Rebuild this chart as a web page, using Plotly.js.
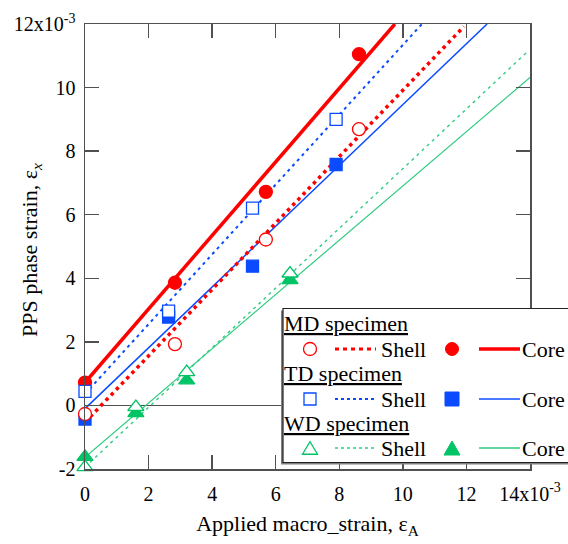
<!DOCTYPE html>
<html><head><meta charset="utf-8">
<script src="https://cdn.plot.ly/plotly-3.0.1.min.js"></script>
<style>html,body{margin:0;padding:0;background:#fff}</style>
</head><body><div id="chart" style="width:568px;height:544px"></div>
<script>
// ---- data (strain values in units of 10^-3) ----
const mdShellX = [0, 2.83, 5.69, 8.62];
const mdShellY = [-0.27, 1.93, 5.22, 8.69];
const mdCoreX  = [0, 2.83, 5.69, 8.62];
const mdCoreY  = [0.72, 3.86, 6.72, 11.05];
const tdShellX = [0, 2.63, 5.27, 7.90];
const tdShellY = [0.44, 2.97, 6.21, 9.00];
const tdCoreX  = [0, 2.63, 5.27, 7.90];
const tdCoreY  = [-0.43, 2.78, 4.38, 7.58];
const wdShellX = [0, 1.60, 3.20, 6.45];
const wdShellY = [-1.94, -0.05, 1.05, 4.15];
const wdCoreX  = [0, 1.60, 3.20, 6.45];
const wdCoreY  = [-1.62, -0.24, 0.79, 3.94];

// fitted lines: end points
const mdShellFitX = [0, 11.92], mdShellFitY = [-0.53, 11.92];
const mdCoreFitX  = [0, 9.75],  mdCoreFitY  = [0.72, 12.0];
const tdShellFitX = [0, 10.6],  tdShellFitY = [0.36, 12.0];
const tdCoreFitX  = [0, 12.65], tdCoreFitY  = [-0.10, 12.0];
const wdShellFitX = [0, 13.92], wdShellFitY = [-1.94, 11.13];
const wdCoreFitX  = [0, 14.0],  wdCoreFitY  = [-1.63, 10.32];

const xTickVals = [0, 2, 4, 6, 8, 10, 12, 14];
const xTickText = ['0', '2', '4', '6', '8', '10', '12', '14x10<sup>-3</sup>'];
const yTickVals = [-2, 0, 2, 4, 6, 8, 10, 12];
const yTickText = ['-2', '0', '2', '4', '6', '8', '10', '12x10<sup>-3</sup>'];

const legendGroups = ['MD specimen', 'TD specimen', 'WD specimen'];
const legendItems = ['Shell', 'Core'];

// ---- styling ----
const RED = '#ff0000', BLUE = '#0a4bff', GREEN = '#00c466', GREENL = '#2ecb80';
const FONT = 'Liberation Serif, Times New Roman, serif';
const AX = '#505050';
const TXT = 22;

function line(x, y, color, width, dash) {
  return {x: x, y: y, type: 'scatter', mode: 'lines', hoverinfo: 'skip',
          line: {color: color, width: width, dash: dash}, showlegend: false};
}
function pts(x, y, symbol, size, fill, lineColor) {
  return {x: x, y: y, type: 'scatter', mode: 'markers', showlegend: false, cliponaxis: false,
          marker: {symbol: symbol, size: size, color: fill, line: {color: lineColor, width: 1.3}}};
}

const traces = [
  line(wdCoreFitX, wdCoreFitY, GREENL, 1.2, 'solid'),
  line(wdShellFitX, wdShellFitY, GREENL, 1.4, '3px,4px'),
  line(tdCoreFitX, tdCoreFitY, BLUE, 1.5, 'solid'),
  line(tdShellFitX, tdShellFitY, BLUE, 2, '3px,4px'),
  line(mdShellFitX, mdShellFitY, RED, 3.5, '3.5px,4px'),
  line(mdCoreFitX, mdCoreFitY, RED, 3.5, 'solid'),
  pts(wdCoreX, wdCoreY, 'triangle-up', 14, GREEN, GREEN),
  pts(tdCoreX, tdCoreY, 'square', 12, BLUE, BLUE),
  pts(mdCoreX, mdCoreY, 'circle', 13, RED, RED),
  pts(wdShellX, wdShellY, 'triangle-up', 14, '#ffffff', GREEN),
  pts(tdShellX, tdShellY, 'square', 12, '#ffffff', BLUE),
  pts(mdShellX, mdShellY, 'circle', 13, '#ffffff', RED)
];

// ---- custom legend (pixel -> paper helpers) ----
const L = 85, T = 24, W = 445, H = 445;
const PX = p => (p - L) / W;
const PY = p => (T + H - p) / H;

const shapes = [];
const annotations = [];
shapes.push({type: 'rect', xref: 'paper', yref: 'paper', layer: 'above',
  x0: PX(281), x1: PX(580), y0: PY(310.5), y1: PY(464.5), fillcolor: '#808080', line: {width: 0}});
shapes.push({type: 'rect', xref: 'paper', yref: 'paper', layer: 'above',
  x0: PX(283), x1: PX(580), y0: PY(308.5), y1: PY(462.5), fillcolor: '#ffffff', line: {color: '#222', width: 1.2}});

const rowHead = [323, 373, 423];
const rowItem = [349, 399, 448];
const rowColor = [RED, BLUE, GREEN];
const rowLineColor = [RED, BLUE, GREENL];
const rowDash = ['4px,4px', '3px,3px', '3px,3px'];
const rowW = [3, 2, 1.5];
const rowW2 = [3.5, 1.5, 1.3];

for (let i = 0; i < 3; i++) {
  annotations.push({xref: 'paper', yref: 'paper', x: PX(282), y: PY(rowHead[i]), xanchor: 'left', yanchor: 'middle',
    showarrow: false, text: '<u>' + legendGroups[i] + '</u>', font: {family: FONT, size: TXT, color: '#000'}});
  const yc = rowItem[i];
  const c = rowColor[i];
  if (i === 0) {
    shapes.push({type: 'circle', xref: 'paper', yref: 'paper', layer: 'above',
      x0: PX(303.5), x1: PX(316.5), y0: PY(yc + 6.5), y1: PY(yc - 6.5), fillcolor: '#fff', line: {color: c, width: 1.3}});
    shapes.push({type: 'circle', xref: 'paper', yref: 'paper', layer: 'above',
      x0: PX(445.5), x1: PX(458.5), y0: PY(yc + 6.5), y1: PY(yc - 6.5), fillcolor: c, line: {color: c, width: 1}});
  } else if (i === 1) {
    shapes.push({type: 'rect', xref: 'paper', yref: 'paper', layer: 'above',
      x0: PX(304), x1: PX(316), y0: PY(yc + 6), y1: PY(yc - 6), fillcolor: '#fff', line: {color: c, width: 1.3}});
    shapes.push({type: 'rect', xref: 'paper', yref: 'paper', layer: 'above',
      x0: PX(445), x1: PX(459), y0: PY(yc + 7), y1: PY(yc - 7), fillcolor: c, line: {color: c, width: 1}});
  } else {
    const tri = (cx, w, h) => 'M' + PX(cx - w / 2) + ',' + PY(yc + h / 2) + ' L' + PX(cx + w / 2) + ',' + PY(yc + h / 2) +
      ' L' + PX(cx) + ',' + PY(yc - h / 2) + ' Z';
    shapes.push({type: 'path', xref: 'paper', yref: 'paper', layer: 'above', path: tri(310, 15, 12.5),
      fillcolor: '#fff', line: {color: c, width: 1.3}});
    shapes.push({type: 'path', xref: 'paper', yref: 'paper', layer: 'above', path: tri(452, 16, 14),
      fillcolor: c, line: {color: c, width: 1}});
  }
  shapes.push({type: 'line', xref: 'paper', yref: 'paper', layer: 'above',
    x0: PX(335), x1: PX(376), y0: PY(yc), y1: PY(yc), line: {color: rowLineColor[i], width: rowW[i], dash: rowDash[i]}});
  shapes.push({type: 'line', xref: 'paper', yref: 'paper', layer: 'above',
    x0: PX(479), x1: PX(520), y0: PY(yc), y1: PY(yc), line: {color: rowLineColor[i], width: rowW2[i]}});
  annotations.push({xref: 'paper', yref: 'paper', x: PX(379), y: PY(yc), xanchor: 'left', yanchor: 'middle',
    showarrow: false, text: legendItems[0], font: {family: FONT, size: TXT, color: '#000'}});
  annotations.push({xref: 'paper', yref: 'paper', x: PX(520), y: PY(yc), xanchor: 'left', yanchor: 'middle',
    showarrow: false, text: legendItems[1], font: {family: FONT, size: TXT, color: '#000'}});
}

// y-axis title
annotations.push({xref: 'paper', yref: 'paper', x: PX(31), y: PY(250), xanchor: 'center', yanchor: 'middle',
  showarrow: false, textangle: -90, text: 'PPS phase strain, ε<sub><i>x</i></sub>',
  font: {family: FONT, size: TXT, color: '#000'}});

const axisCommon = {
  showgrid: false, showline: true, linecolor: AX, linewidth: 1.5, mirror: 'ticks',
  ticks: 'inside', ticklen: 14, tickwidth: 1.5, tickcolor: AX,
  tickfont: {family: FONT, size: 20, color: '#000'}, fixedrange: true
};

const layout = {
  width: 568, height: 544,
  margin: {l: L, r: 568 - L - W, t: T, b: 544 - T - H, pad: 0},
  paper_bgcolor: '#fff', plot_bgcolor: '#fff',
  font: {family: FONT, size: 20, color: '#000'},
  showlegend: false,
  xaxis: Object.assign({}, axisCommon, {
    range: [0, 14], tickvals: xTickVals, ticktext: xTickText, zeroline: false,
    ticklabelstandoff: 6,
    title: {text: 'Applied macro_strain, ε<sub>A</sub>', font: {family: FONT, size: TXT, color: '#000'}, standoff: 12}
  }),
  yaxis: Object.assign({}, axisCommon, {
    range: [-2, 12], tickvals: yTickVals, ticktext: yTickText,
    zeroline: true, zerolinecolor: AX, zerolinewidth: 1.5, ticklabelstandoff: 4
  }),
  shapes: shapes,
  annotations: annotations
};

Plotly.newPlot('chart', traces, layout, {staticPlot: true, displayModeBar: false});
</script>
</body></html>
